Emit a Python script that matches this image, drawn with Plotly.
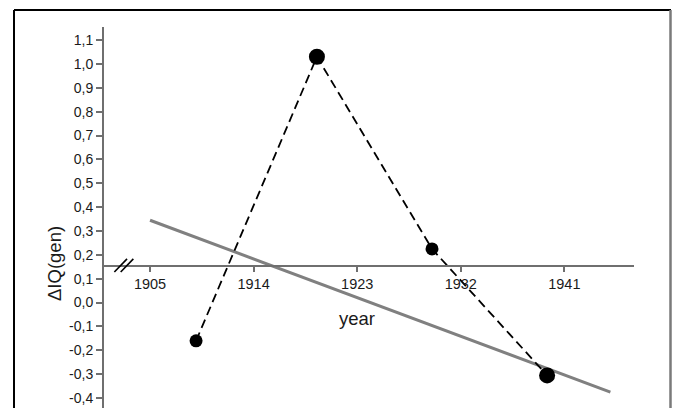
import plotly.graph_objects as go

# data
years = [1909, 1919.5, 1929.5, 1939.5]
delta_iq = [-0.16, 1.03, 0.225, -0.305]
point_sizes = [13, 16, 13, 16]

trend_years = [1905, 1945]
trend_values = [0.345, -0.375]

x_ticks = [1905, 1914, 1923, 1932, 1941]
x_tick_labels = ["1905", "1914", "1923", "1932", "1941"]
y_ticks = [-0.4, -0.3, -0.2, -0.1, 0.0, 0.1, 0.2, 0.3, 0.4, 0.5, 0.6, 0.7, 0.8, 0.9, 1.0, 1.1]
y_tick_labels = ["-0,4", "-0,3", "-0,2", "-0,1", "0,0", "0,1", "0,2", "0,3", "0,4",
                 "0,5", "0,6", "0,7", "0,8", "0,9", "1,0", "1,1"]

W, H = 673, 408
L, R, T, B = 104, 39, 27, 0
X_RANGE = [1901.0, 1947.05]
Y_RANGE = [-0.4416, 1.1546]
X_AXIS_AT = 0.155  # where the broken x axis crosses

AXIS_GREY = "#6f6f6f"
FONT = "Liberation Sans, Arial, sans-serif"

plot_w = W - L - R
plot_h = H - T - B


def px_x(p):
    return (p - L) / plot_w


def px_y(p):
    return (H - B - p) / plot_h


fig = go.Figure()

fig.add_trace(go.Scatter(
    x=trend_years, y=trend_values,
    mode="lines",
    line=dict(color="#808080", width=3),
    hoverinfo="skip",
    showlegend=False,
))

fig.add_trace(go.Scatter(
    x=years, y=delta_iq,
    mode="lines+markers",
    line=dict(color="black", width=1.8, dash="9px,5px"),
    marker=dict(color="black", size=point_sizes, opacity=1,
                line=dict(color="black", width=0)),
    cliponaxis=False,
    showlegend=False,
))

x_pos = (X_AXIS_AT - Y_RANGE[0]) / (Y_RANGE[1] - Y_RANGE[0])

fig.update_layout(
    width=W, height=H,
    margin=dict(l=L, r=R, t=T, b=B, pad=0),
    plot_bgcolor="white",
    paper_bgcolor="white",
    font=dict(family=FONT, size=14, color="#1a1a1a"),
    showlegend=False,
    xaxis=dict(
        range=X_RANGE,
        anchor="free", position=x_pos,
        tickvals=x_ticks, ticktext=x_tick_labels,
        ticks="outside", ticklen=5, tickwidth=1.5, tickcolor=AXIS_GREY,
        showline=True, linecolor=AXIS_GREY, linewidth=2,
        showgrid=False, zeroline=False,
        tickfont=dict(size=14.5),
    ),
    yaxis=dict(
        range=Y_RANGE,
        tickvals=y_ticks, ticktext=y_tick_labels,
        ticks="outside", ticklen=6, tickwidth=1.5, tickcolor=AXIS_GREY,
        showline=True, linecolor=AXIS_GREY, linewidth=2,
        showgrid=False, zeroline=False,
        tickfont=dict(size=14),
    ),
)

# axis titles
fig.add_annotation(text="year", xref="paper", yref="paper",
                   x=px_x(357), y=px_y(318), xanchor="center", yanchor="middle",
                   showarrow=False, font=dict(size=18.5, family=FONT))
fig.add_annotation(text="ΔIQ(gen)", xref="paper", yref="paper",
                   x=px_x(54), y=px_y(263), xanchor="center", yanchor="middle",
                   textangle=-90, showarrow=False,
                   font=dict(size=18.5, family=FONT))

# axis break marks
for x0, x1 in [(1901.9, 1903.0), (1902.45, 1903.55)]:
    fig.add_shape(type="line", xref="x", yref="y",
                  x0=x0, x1=x1, y0=0.128, y1=0.183,
                  line=dict(color="black", width=1.6))

# frame around the panel
fig.add_shape(type="line", xref="paper", yref="paper",
              x0=px_x(14), x1=px_x(14), y0=px_y(10), y1=px_y(410),
              line=dict(color="black", width=2))
fig.add_shape(type="line", xref="paper", yref="paper",
              x0=px_x(14), x1=px_x(671), y0=px_y(10), y1=px_y(10),
              line=dict(color="black", width=2))
fig.add_shape(type="line", xref="paper", yref="paper",
              x0=px_x(670.5), x1=px_x(670.5), y0=px_y(10), y1=px_y(410),
              line=dict(color="#7a7a7a", width=2.5))

fig.write_html("out.html", config={"displayModeBar": False},
               post_script="document.body.style.margin='0';")
